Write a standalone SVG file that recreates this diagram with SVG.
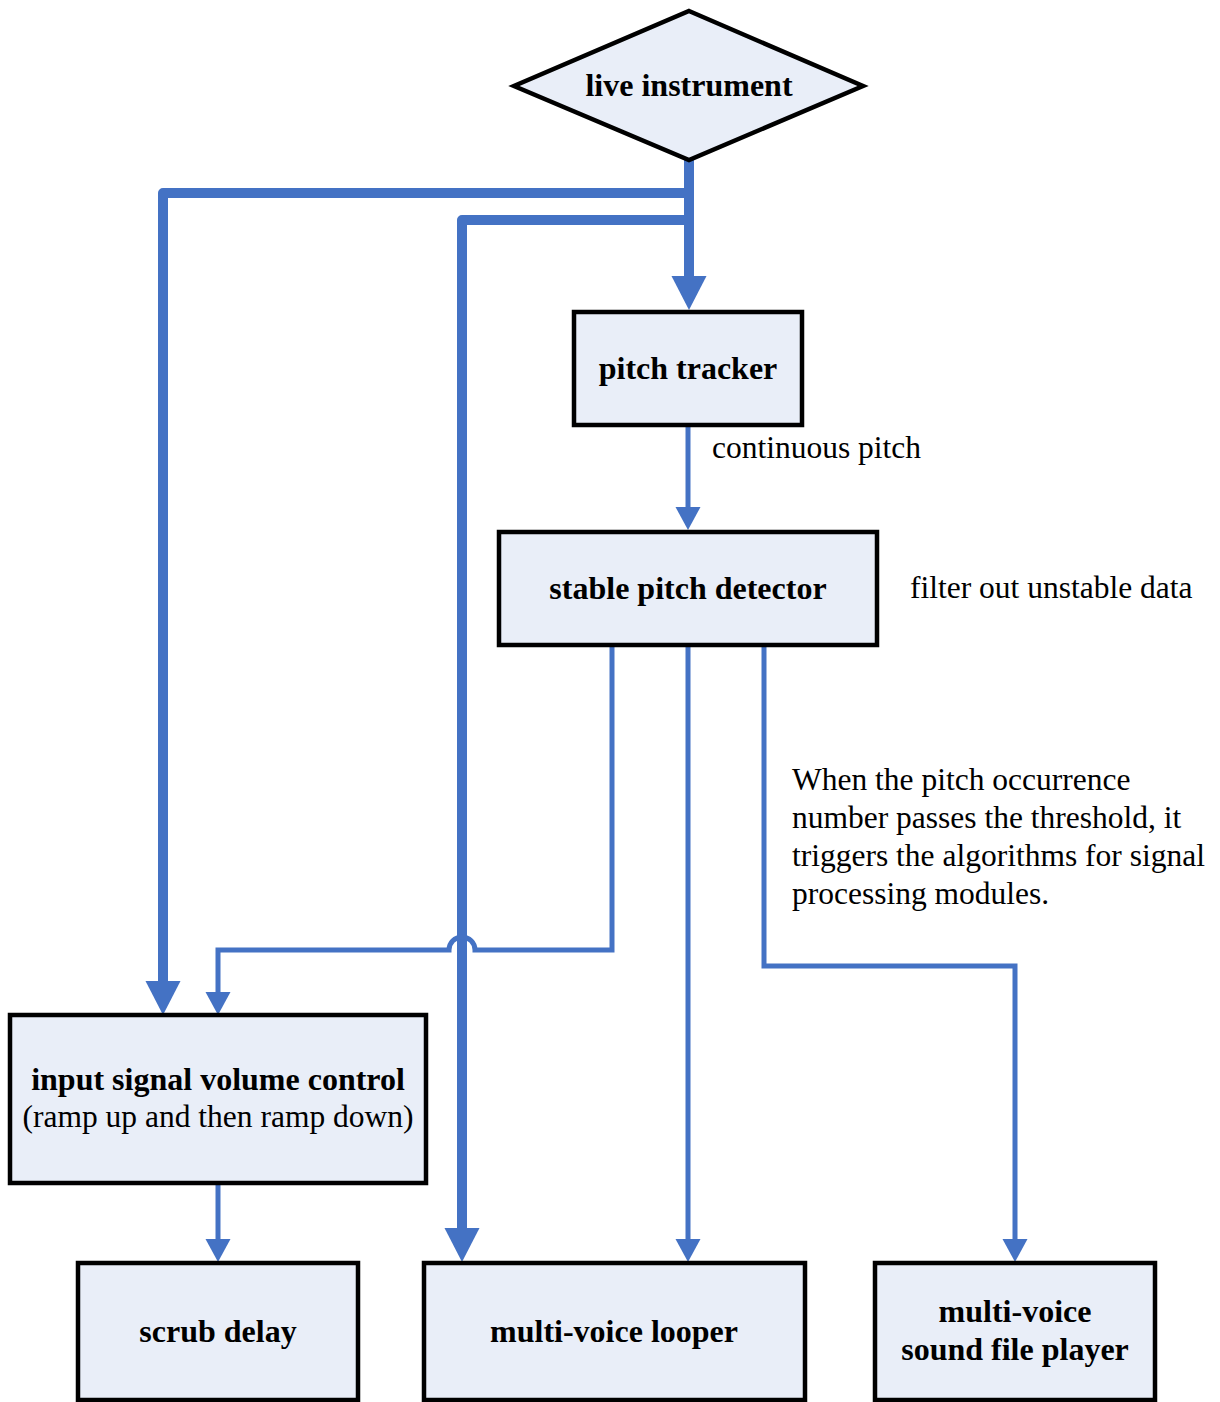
<svg xmlns="http://www.w3.org/2000/svg" width="1220" height="1402" viewBox="0 0 1220 1402">
<defs>
<marker id="ah-thick" markerUnits="userSpaceOnUse" markerWidth="40" markerHeight="40" viewBox="0 -20 40 40" refX="0" refY="0" orient="auto" overflow="visible"><path d="M0,-17.5 L34,0 L0,17.5 Z" fill="#4472C4"/></marker>
<marker id="ah-thin" markerUnits="userSpaceOnUse" markerWidth="30" markerHeight="30" viewBox="0 -15 30 30" refX="0" refY="0" orient="auto" overflow="visible"><path d="M0,-12.5 L23,0 L0,12.5 Z" fill="#4472C4"/></marker>
<style>
.box{fill:#e9eef8;stroke:#000;stroke-width:4.5;stroke-linejoin:miter}
.thick{fill:none;stroke:#4472C4;stroke-width:10;stroke-linejoin:round}
.thin{fill:none;stroke:#4472C4;stroke-width:5;stroke-linejoin:miter}
.lbl{font-family:"Liberation Serif","Times New Roman",serif;font-weight:bold;font-size:32px;fill:#000;text-anchor:middle}
.note{font-family:"Liberation Serif","Times New Roman",serif;font-size:31.5px;fill:#000}
</style>
</defs>
<rect width="1220" height="1402" fill="#fff"/>
<g id="connectors">
<path class="thick" d="M689,158 L689,276" marker-end="url(#ah-thick)"/>
<path class="thick" d="M689,193 L163,193 L163,981" marker-end="url(#ah-thick)"/>
<path class="thick" d="M689,220 L462,220 L462,1228" marker-end="url(#ah-thick)"/>
<path class="thin" d="M688,425 L688,507" marker-end="url(#ah-thin)"/>
<path class="thin" d="M612,645 L612,950 L475,950 A13,13 0 0 0 449,950 L218,950 L218,992" marker-end="url(#ah-thin)"/>
<path class="thin" d="M688,645 L688,1239" marker-end="url(#ah-thin)"/>
<path class="thin" d="M764,645 L764,966 L1015,966 L1015,1239" marker-end="url(#ah-thin)"/>
<path class="thin" d="M218,1183 L218,1239" marker-end="url(#ah-thin)"/>
</g>
<g id="live-instrument">
<polygon class="box" points="689,11 863,86 689,160 514,86"/>
<text class="lbl" x="689" y="96">live instrument</text>
</g>
<g id="pitch-tracker">
<rect class="box" x="574" y="312" width="228" height="113"/>
<text class="lbl" x="688" y="379">pitch tracker</text>
</g>
<g id="label-continuous">
<text class="note" x="712" y="458">continuous pitch</text>
</g>
<g id="stable-pitch-detector">
<rect class="box" x="499" y="532" width="378" height="113"/>
<text class="lbl" x="688" y="599">stable pitch detector</text>
</g>
<g id="label-filter">
<text class="note" x="910" y="598">filter out unstable data</text>
</g>
<g id="label-threshold">
<text class="note" x="792" y="790">When the pitch occurrence</text>
<text class="note" x="792" y="828">number passes the threshold, it</text>
<text class="note" x="792" y="866">triggers the algorithms for signal</text>
<text class="note" x="792" y="904">processing modules.</text>
</g>
<g id="input-signal-volume-control">
<rect class="box" x="10" y="1015" width="416" height="168"/>
<text class="lbl" x="218" y="1090">input signal volume control</text>
<text class="note" x="218" y="1127" text-anchor="middle">(ramp up and then ramp down)</text>
</g>
<g id="scrub-delay">
<rect class="box" x="78" y="1263" width="280" height="137"/>
<text class="lbl" x="218" y="1342">scrub delay</text>
</g>
<g id="multi-voice-looper">
<rect class="box" x="424" y="1263" width="381" height="137"/>
<text class="lbl" x="614" y="1342">multi-voice looper</text>
</g>
<g id="multi-voice-sound-file-player">
<rect class="box" x="875" y="1263" width="280" height="137"/>
<text class="lbl" x="1015" y="1322">multi-voice</text>
<text class="lbl" x="1015" y="1360">sound file player</text>
</g>
</svg>
